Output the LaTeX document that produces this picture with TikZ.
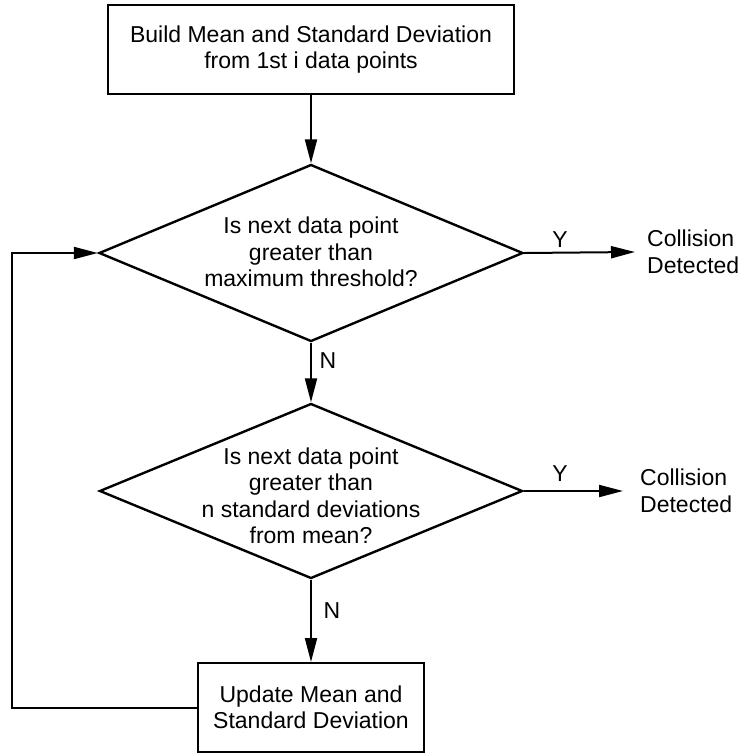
\documentclass[tikz,border=0pt]{standalone}
\usepackage{fontspec}
\setmainfont{Liberation Sans}
\usetikzlibrary{shapes.geometric,arrows.meta}
\begin{document}
\begin{tikzpicture}[x=1pt,y=-1pt,
  every node/.style={font=\fontsize{23}{26.5}\selectfont},
  box/.style={draw, line width=2pt, inner sep=0pt, align=center},
  dia/.style={draw, diamond, line width=2.4pt, inner sep=0pt, minimum width=424pt, minimum height=177pt},
  txt/.style={align=center, inner sep=0pt},
  arr/.style={line width=2pt, -{Triangle[length=24pt,width=12pt]}},
  ln/.style={line width=2pt}]
\useasboundingbox (0,0) rectangle (743,753);
\node[box, minimum width=406pt, minimum height=89pt] (b1) at (311,49.5) {Build Mean and Standard Deviation\\from 1st i data points};
\node[dia] (d1) at (311,253) {};
\node[txt] (t1) at (311,252) {Is next data point\\greater than\\maximum threshold?};
\node[dia, minimum width=423pt, minimum height=175pt] (d2) at (311,491) {};
\node[txt] (t2) at (311,496) {Is next data point\\greater than\\n standard deviations\\from mean?};
\node[box, minimum width=226pt, minimum height=89pt] (b2) at (311,707.5) {Update Mean and\\Standard Deviation};
\node[txt, anchor=west, inner xsep=12pt, align=left] (c1) at (635,252) {Collision\\Detected};
\node[txt, anchor=west, inner xsep=17pt, align=left] (c2) at (623,491) {Collision\\Detected};
\node[txt] (y1) at (560,240) {Y};
\node[txt] (y2) at (560,474) {Y};
\node[txt] (n1) at (328,361) {N};
\node[txt] (n2) at (332,611) {N};
\coordinate (lc) at (12,0);
\draw[arr] (b1.south) -- (d1.north);
\draw[arr] (d1.east) -- (c1.west);
\draw[arr] (d1.south) -- (d2.north);
\draw[arr] (d2.east) -- (c2.west);
\draw[arr] (d2.south) -- (b2.north);
\draw[arr] (b2.west) -- (b2.west -| lc) |- (d1.west);
\end{tikzpicture}
\end{document}
